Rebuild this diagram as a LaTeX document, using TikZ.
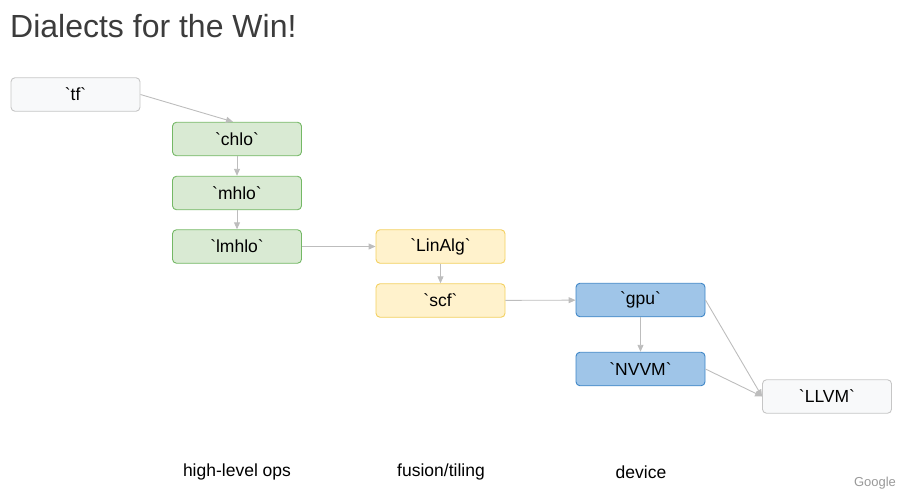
\documentclass[tikz,border=0pt]{standalone}
\usepackage{fontspec}
\setmainfont{Liberation Sans}
\usetikzlibrary{arrows.meta}
\definecolor{titlegray}{HTML}{3C3C3C}
\definecolor{arrowgray}{HTML}{BDBDBD}
\definecolor{wfill}{HTML}{F8F9FA}
\definecolor{wdraw}{HTML}{C6C6C6}
\definecolor{gfill}{HTML}{D9EAD3}
\definecolor{gdraw}{HTML}{74B865}
\definecolor{yfill}{HTML}{FFF2CC}
\definecolor{ydraw}{HTML}{F3D060}
\definecolor{bfill}{HTML}{9FC5E8}
\definecolor{bdraw}{HTML}{3D85C6}
\newcommand{\bq}{\textasciigrave}
\begin{document}
\begin{tikzpicture}[x=1pt,y=-1pt,
  box/.style={rounded corners=4pt, line width=0.9pt, minimum width=129pt, minimum height=33.5pt,
    inner sep=0pt, font=\fontsize{17.5}{20}\selectfont},
  wbox/.style={box, fill=wfill, draw=wdraw},
  gbox/.style={box, fill=gfill, draw=gdraw},
  ybox/.style={box, fill=yfill, draw=ydraw},
  bbox/.style={box, fill=bfill, draw=bdraw},
  conn/.style={draw=arrowgray, line width=0.9pt, -{Triangle[length=7pt,width=6pt]}},
  captext/.style={font=\fontsize{17.5}{20}\selectfont, text=black}]
\useasboundingbox (0,0) rectangle (915,503);
\node[anchor=west, text=titlegray, font=\fontsize{32}{36}\selectfont, inner sep=0pt] (title) at (10,26) {Dialects for the Win!};
\node[wbox] (tf) at (75.5,94.5) {\bq tf\bq};
\node[gbox] (chlo) at (237,139) {\bq chlo\bq};
\node[gbox] (mhlo) at (237,193) {\bq mhlo\bq};
\node[gbox] (lmhlo) at (237,246.5) {\bq lmhlo\bq};
\node[ybox] (linalg) at (440.5,246.5) {\bq LinAlg\bq};
\node[ybox] (scf) at (440.5,300.5) {\bq scf\bq};
\node[bbox] (gpu) at (640.5,300) {\bq gpu\bq};
\node[bbox] (nvvm) at (640.5,369) {\bq NVVM\bq};
\node[wbox] (llvm) at (827,396.5) {\bq LLVM\bq};
\node[captext] (c1) at (237,472) {high-level ops};
\node[captext] (c2) at (441,472) {fusion/tiling};
\node[captext] (c3) at (641,472) {device};
\node[text=gray!80, font=\fontsize{13}{15}\selectfont] (google) at (875,483) {Google};
\draw[conn] (tf.east) -- ([xshift=-4pt]chlo.north);
\draw[conn] (chlo) -- (mhlo);
\draw[conn] (mhlo) -- (lmhlo);
\draw[conn] (lmhlo) -- (linalg);
\draw[conn] (linalg) -- (scf);
\draw[conn] (scf) -- (gpu);
\draw[conn] (gpu) -- (nvvm);
\draw[conn] (gpu.east) -- (llvm.west);
\draw[conn] (nvvm.east) -- (llvm.west);
\end{tikzpicture}
\end{document}
